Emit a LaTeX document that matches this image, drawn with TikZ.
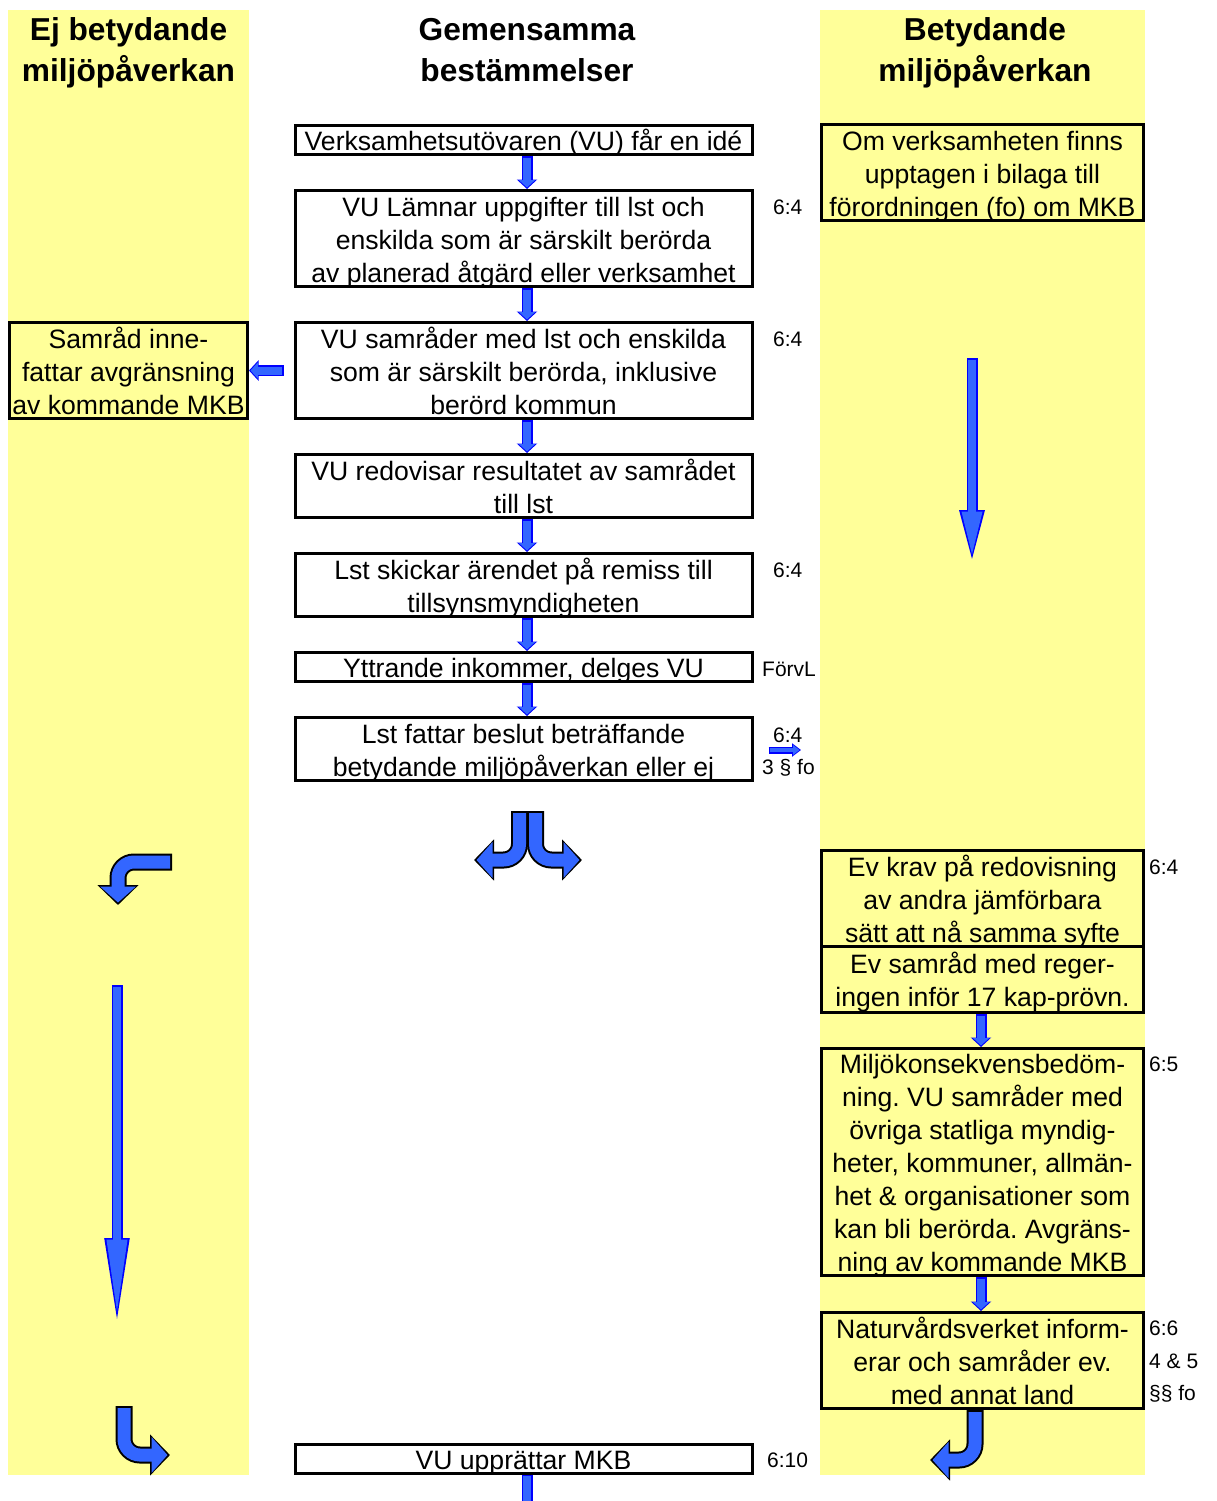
\documentclass[tikz,border=0pt]{standalone}
\usepackage{fontspec}
\setmainfont{Liberation Sans}
\usetikzlibrary{positioning,arrows.meta,calc}
\frenchspacing

\definecolor{colyellow}{HTML}{FFFF99}
\definecolor{arrowfill}{HTML}{3366FF}
\definecolor{arrowline}{HTML}{0000FF}

\newcommand\bxfont{\fontsize{26.6pt}{33pt}\selectfont}
\newcommand\hdfont{\fontsize{31.7pt}{41pt}\selectfont\bfseries}
\newcommand\rffont{\fontsize{21pt}{33pt}\selectfont}
% strut that keeps the two header lines level
\newcommand\hdstrut{\rule[-7pt]{0pt}{24pt}}

\begin{document}
\begin{tikzpicture}[
  x=1pt, y=-1pt,
  box/.style={
    draw=black, line width=3pt, fill=white, align=center,
    inner xsep=2pt, inner ysep=0pt, font=\bxfont,
    minimum width=457pt, text depth=3pt
  },
  onel/.style  ={minimum height=29pt, text height=24pt},
  twol/.style  ={minimum height=63pt, text height=57pt},
  threel/.style={minimum height=96pt, text height=90pt},
  % yellow boxes in the side columns
  ybox/.style={box, fill=colyellow, minimum width=322pt},
  head/.style={font=\hdfont, align=center,
    execute at begin node=\hdstrut, execute at end node=\hdstrut},
  ref/.style={font=\rffont, anchor=west, inner sep=0pt},
  % straight block arrows, blue outline
  downarr/.style={
    draw=arrowfill, line width=8pt, -{Triangle[length=7.5pt,width=16pt]},
    shorten >=1.5pt, shorten <=1.5pt,
    preaction={draw=arrowline, line width=11pt, -{Triangle[length=9.5pt,width=20pt]},
      shorten >=0pt, shorten <=0pt}
  },
  longarr/.style={
    draw=arrowfill, line width=8pt, -{Triangle[length=46.7pt,width=18.4pt]},
    shorten >=7.8pt, shorten <=1.5pt,
    preaction={draw=arrowline, line width=11pt, -{Triangle[length=56pt,width=22pt]},
      shorten >=0pt, shorten <=0pt}
  },
  longerarr/.style={
    draw=arrowfill, line width=8pt, -{Triangle[length=77.9pt,width=18.6pt]},
    shorten >=12.6pt, shorten <=1.5pt,
    preaction={draw=arrowline, line width=11pt, -{Triangle[length=92pt,width=22pt]},
      shorten >=0pt, shorten <=0pt}
  },
  smallarr/.style={
    draw=arrowfill, line width=4.5pt, -{Triangle[length=6.5pt,width=9.5pt]},
    shorten >=1.5pt, shorten <=1pt,
    preaction={draw=arrowline, line width=7pt, -{Triangle[length=9pt,width=13pt]},
      shorten >=0pt, shorten <=0pt}
  },
  % bent arrows, black outline
  bentarr/.style={
    draw=arrowfill, line width=13pt, rounded corners=16pt,
    -{Triangle[length=16pt,width=35pt]}, shorten >=2.5pt, shorten <=2pt,
    preaction={draw=black, line width=17pt, -{Triangle[length=20pt,width=40pt]},
      shorten >=0pt, shorten <=0pt}
  }
]
\useasboundingbox (0,0) rectangle (1216,1501);
\fill[white] (0,0) rectangle (1216,1501);

% ---------- Columns ----------
\fill[colyellow] (8,10) rectangle (249,1475);
\fill[colyellow] (820,10) rectangle (1145,1475);

\node[head] (hleft)  at (128.5,53.5) {Ej betydande\\miljöpåverkan};
\node[head] (hmid)   at (527,53.5)   {Gemensamma\\bestämmelser};
\node[head] (hright) at (985,53.5)   {Betydande\\miljöpåverkan};

% ---------- Common provisions ----------
\node[box, onel] (b1) at (523.5,140) {Verksamhetsutövaren (VU) får en idé};
\node[box, threel, below=33pt of b1] (b2) {VU Lämnar uppgifter till lst och\\enskilda som är särskilt berörda\\av planerad åtgärd eller verksamhet};
\node[box, threel, below=33pt of b2] (b3) {VU samråder med lst och enskilda\\som är särskilt berörda, inklusive\\berörd kommun};
\node[box, twol,   below=33pt of b3] (b4) {VU redovisar resultatet av samrådet\\till lst};
\node[box, twol,   below=33pt of b4] (b5) {Lst skickar ärendet på remiss till\\tillsynsmyndigheten};
\node[box, onel,   below=33pt of b5] (b6) {Yttrande inkommer, delges VU};
\node[box, twol,   below=33pt of b6] (b7) {Lst fattar beslut beträffande\\betydande miljöpåverkan eller ej};
\node[box, onel] (b8) at (523.5,1458.5) {VU upprättar MKB};

\foreach \a/\b in {b1/b2,b2/b3,b3/b4,b4/b5,b5/b6,b6/b7}
  \draw[downarr] ([xshift=3.5pt]\a.south) -- ([xshift=3.5pt]\b.north);
\coordinate (bend) at (527,1515);
\draw[downarr] ([xshift=3.5pt]b8.south) -- (bend);

% ---------- No significant impact ----------
\node[ybox, threel, minimum width=238pt] (l1) at (128.5,370.5) {Samråd inne-\\fattar avgränsning\\av kommande MKB};
\draw[downarr] ([xshift=-10pt]b3.west) -- (l1.east);

% ---------- Significant impact ----------
\node[ybox, threel] (r1) at (982.5,172.5) {Om verksamheten finns\\upptagen i bilaga till\\förordningen (fo) om MKB};
\node[ybox, threel] (r2) at (982.5,898.5) {Ev krav på redovisning\\av andra jämförbara\\sätt att nå samma syfte};
\node[ybox, twol, minimum height=66pt, below=-3pt of r2] (r3) {Ev samråd med reger-\\ingen inför 17 kap-prövn.};
\node[ybox, minimum height=227pt, text height=222pt, below=33pt of r3] (r4) {Miljökonsekvensbedöm-\\ning. VU samråder med\\övriga statliga myndig-\\heter, kommuner, allmän-\\het \& organisationer som\\kan bli berörda. Avgräns-\\ning av kommande MKB};
\node[ybox, threel, below=34pt of r4] (r5) {Naturvårdsverket inform-\\erar och samråder ev.\\med annat land};

\draw[downarr] ([xshift=-1.5pt]r3.south) -- ([xshift=-1.5pt]r4.north);
\draw[downarr] ([xshift=-1.5pt]r4.south) -- ([xshift=-1.5pt]r5.north);

% ---------- References ----------
\node[ref] (ref2) at (773,207)  {6:4};
\node[ref] (ref3) at (773,339)  {6:4};
\node[ref] (ref5) at (773,570)  {6:4};
\node[ref] (ref6) at (762,669)  {FörvL};
\node[ref] (ref7) at (773,735)  {6:4};
\node[ref] (ref7b) at (762,768) {3 § fo};
\node[ref] (ref8) at (767,1460) {6:10};
\node[ref] (refr2) at (1149,867)  {6:4};
\node[ref] (refr4) at (1149,1064) {6:5};
\node[ref] (refr5) at (1149,1328) {6:6};
\node[ref] (refr5b) at (1149,1361) {4 \& 5};
\node[ref] (refr5c) at (1149,1394) {§§ fo};

\coordinate (rs) at ([xshift=15pt]b7.east);
\coordinate (re) at (801,750);
\draw[smallarr] (rs |- re) -- (re);

% ---------- Free arrows ----------
\coordinate (rtop) at (972,358);
\coordinate (rbot) at (972,566);
\draw[longarr] (rtop) -- (rbot);
\coordinate (ltop) at (117,985);
\coordinate (lbot) at (117,1330);
\draw[longerarr] (ltop) -- (lbot);

\coordinate (splitl) at (519.5,811);
\coordinate (splitr) at (535.5,811);
\coordinate (tipl) at (474,860);
\coordinate (tipr) at (582,860);
\draw[bentarr] (splitl) |- (tipl);
\draw[bentarr] (splitr) |- (tipr);

\coordinate (lbstart) at (172,862);
\coordinate (lbtip) at (118,905);
\draw[bentarr] (lbstart) -| (lbtip);

\coordinate (blstart) at (124,1406);
\coordinate (bltip) at (170,1455);
\draw[bentarr] (blstart) |- (bltip);

\coordinate (brtip) at (930,1460);
\draw[bentarr] ([xshift=-7.5pt]r5.south) |- (brtip);

\end{tikzpicture}
\end{document}
